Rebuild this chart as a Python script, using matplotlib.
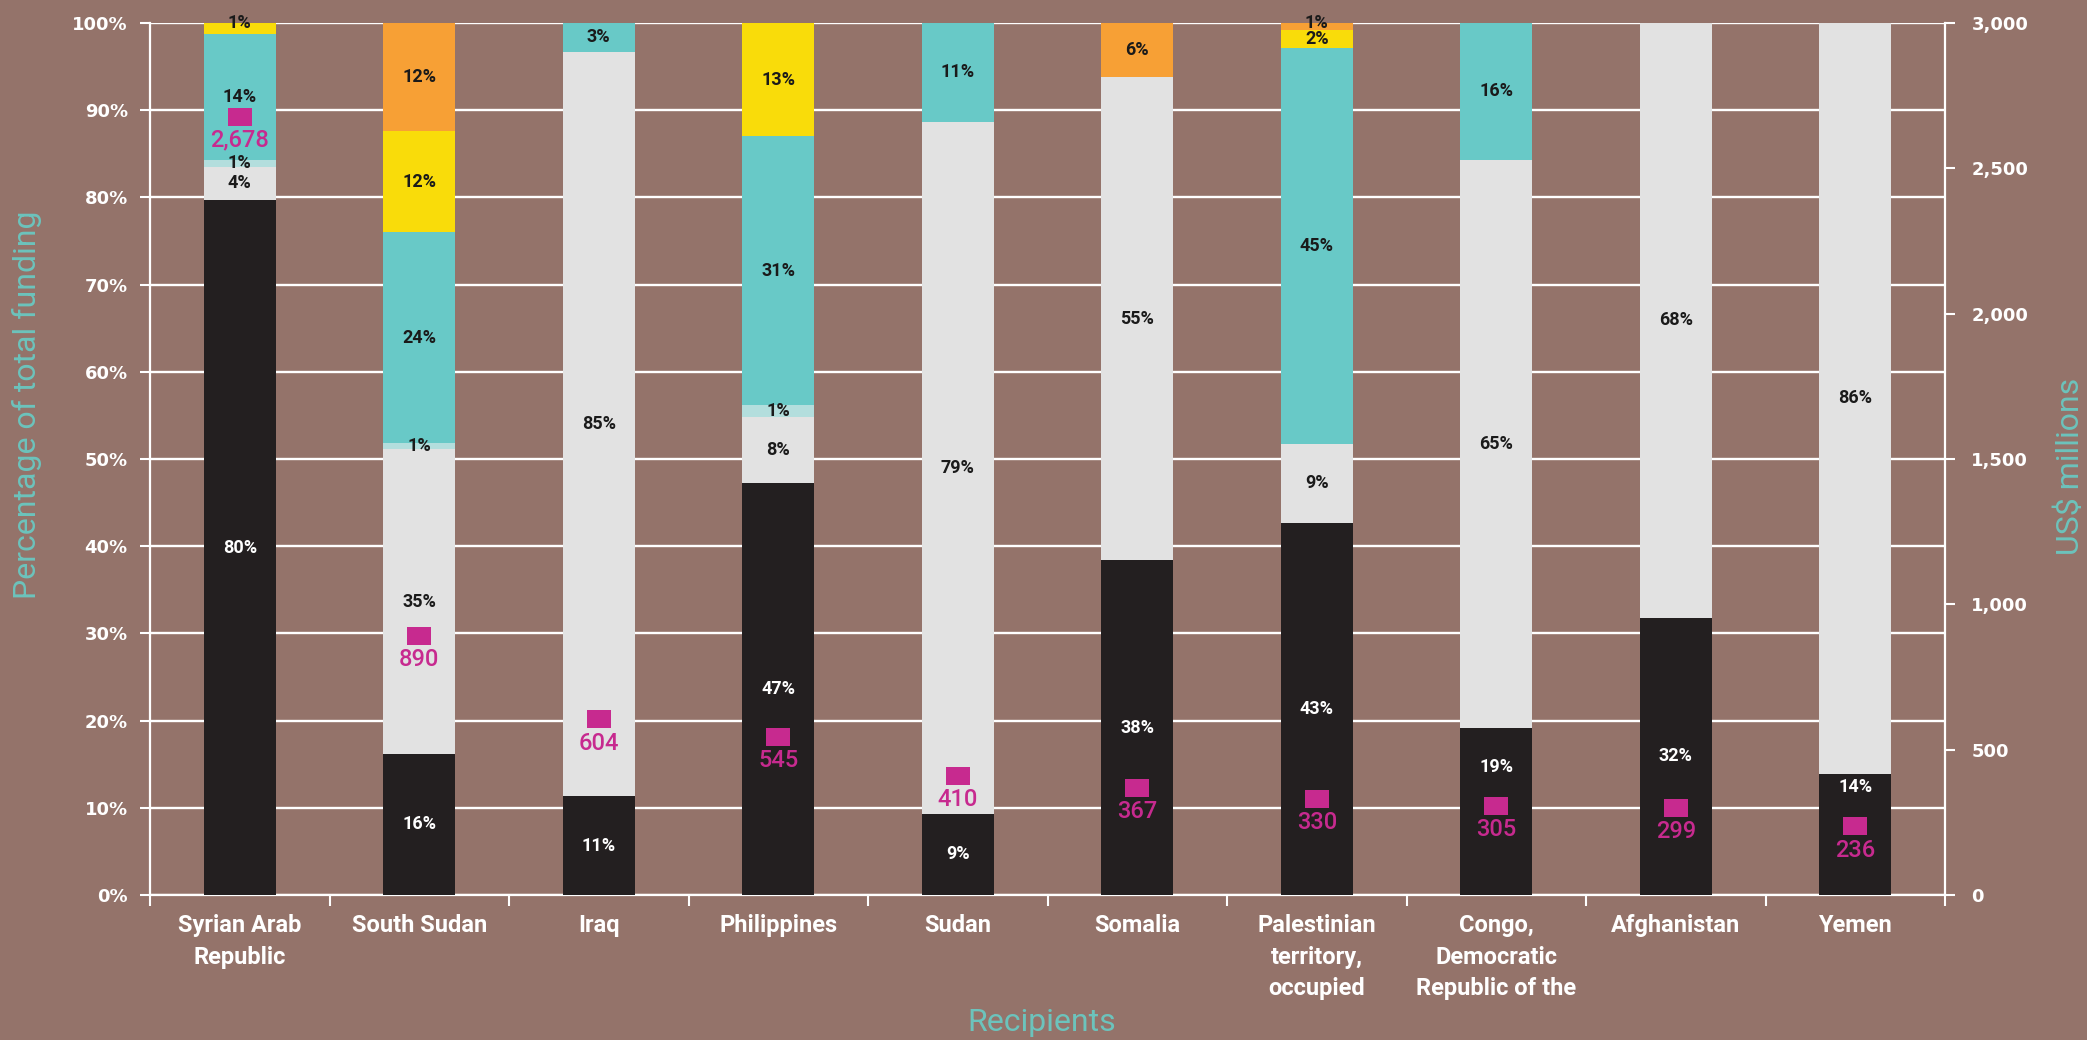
import matplotlib
matplotlib.use("Agg")
from matplotlib import pyplot as plt
import numpy as np

# recipients and their funding shares (% of total), bottom to top
recipients = ["Syrian Arab\nRepublic", "South Sudan", "Iraq", "Philippines", "Sudan",
              "Somalia", "Palestinian\nterritory,\noccupied", "Congo,\nDemocratic\nRepublic of the",
              "Afghanistan", "Yemen"]
seg_black = [79.7, 16.2, 11.3, 47.2, 9.3, 38.4, 42.7, 19.1, 31.8, 13.9]
seg_grey = [3.8, 34.9, 85.4, 7.6, 79.4, 55.4, 9.0, 65.2, 68.2, 86.1]
seg_pale = [0.8, 0.7, 0, 1.4, 0, 0, 0, 0, 0, 0]
seg_teal = [14.4, 24.2, 3.3, 30.8, 11.3, 0, 45.4, 15.7, 0, 0]
seg_yellow = [1.3, 11.6, 0, 13.0, 0, 0, 2.1, 0, 0, 0]
seg_orange = [0, 12.4, 0, 0, 0, 6.2, 0.8, 0, 0, 0]
funding = [2678, 890, 604, 545, 410, 367, 330, 305, 299, 236]  # US$ millions

bg = "#94736a"
teal_txt = "#6cc3bc"
magenta = "#c72a8f"
segments = [
    (seg_black, "#231f20", "white"),
    (seg_grey, "#e2e2e2", "#1a1a1a"),
    (seg_pale, "#b3dedd", "#1a1a1a"),
    (seg_teal, "#68c9c7", "#1a1a1a"),
    (seg_yellow, "#f9dc0a", "#1a1a1a"),
    (seg_orange, "#f7a035", "#1a1a1a"),
]

lab_font = ["Roboto", "DejaVu Sans"]

fig = plt.figure(figsize=(20.87, 10.40), dpi=100, facecolor=bg)
ax = fig.add_axes([150 / 2087, 1 - 895 / 1040, 1795 / 2087, 872 / 1040])
ax.set_facecolor(bg)
ax2 = ax.twinx()

x = np.arange(len(recipients))
bottom = np.zeros(len(recipients))
for k, (vals, col, tcol) in enumerate(segments):
    vals = np.array(vals, dtype=float)
    ax.bar(x, vals, 0.4, bottom=bottom, color=col, zorder=3, linewidth=0)
    for i, v in enumerate(vals):
        if v <= 0:
            continue
        yc = bottom[i] + v / 2
        m = funding[i] / 30.0
        # keep the black segment label clear of the funding marker
        if k == 0 and m - 7.5 <= yc <= m + 2.0:
            yc = m + 4.5
        # tiny top slivers: label sits on the 100% line
        if v < 1.5 and bottom[i] + v > 99.5:
            yc = 100.0
        ax.text(x[i], yc, f"{round(v)}%", ha="center", va="center", color=tcol,
                fontsize=13, fontweight="bold", family=lab_font, zorder=5)
    bottom += vals

ax.set_xlim(-0.5, len(recipients) - 0.5)
ax.set_ylim(0, 100)
ax.set_yticks(np.arange(0, 101, 10))
ax.set_yticklabels([f"{t}%" for t in range(0, 101, 10)])
ax.yaxis.grid(True, color="white", linewidth=1.7, zorder=1)
ax.set_axisbelow(True)

ax.set_xticks(x)
ax.set_xticklabels(recipients, color="white", fontsize=17, fontweight="bold",
                   family=lab_font, linespacing=1.45)
ax.set_xticks(np.arange(-0.5, len(recipients), 1), minor=True)
ax.tick_params(axis="x", which="major", length=0, pad=14)
ax.tick_params(axis="x", which="minor", length=8, width=1.5, color="white", direction="out")
ax.tick_params(axis="y", length=7, width=1.5, color="white", pad=9,
               labelcolor="white", labelsize=13)
for lab in ax.get_yticklabels():
    lab.set_fontweight("bold")

for s in ["top", "right"]:
    ax.spines[s].set_visible(False)
for s in ["left", "bottom"]:
    ax.spines[s].set_color("white")
    ax.spines[s].set_linewidth(1.6)

ax.set_ylabel("Percentage of total funding", color=teal_txt, fontsize=23, family=lab_font)
ax.yaxis.set_label_coords(-0.060, 0.562)
ax.set_xlabel("Recipients", color=teal_txt, fontsize=23, family=lab_font)
ax.xaxis.set_label_coords(0.497, -0.130)

# funding markers on right axis
rect = [(-1.25, -1), (1.25, -1), (1.25, 1), (-1.25, 1), (-1.25, -1)]
ax2.plot(x, funding, linestyle="none", marker=rect, markersize=16.6,
         color=magenta, markeredgewidth=0, zorder=6)
for i, v in enumerate(funding):
    ax2.annotate(f"{v:,}", (x[i], v), xytext=(0, -17), textcoords="offset points",
                 ha="center", va="center", color=magenta, fontsize=17,
                 fontweight="medium", family=lab_font)

ax2.set_ylim(0, 3000)
ax2.set_yticks(np.arange(0, 3001, 500))
ax2.set_yticklabels([f"{t:,}" for t in range(0, 3001, 500)])
ax2.tick_params(axis="y", length=7, width=1.5, color="white", pad=12,
                labelcolor="white", labelsize=13)
for lab in ax2.get_yticklabels():
    lab.set_fontweight("bold")
for s in ["top", "left", "bottom"]:
    ax2.spines[s].set_visible(False)
ax2.spines["right"].set_color("white")
ax2.spines["right"].set_linewidth(1.6)
ax2.set_ylabel("US$ millions", color=teal_txt, fontsize=23, family=lab_font,
               rotation=90)
ax2.yaxis.set_label_coords(1.0615, 0.492)

fig.savefig("out.png", dpi=100, facecolor=bg)
